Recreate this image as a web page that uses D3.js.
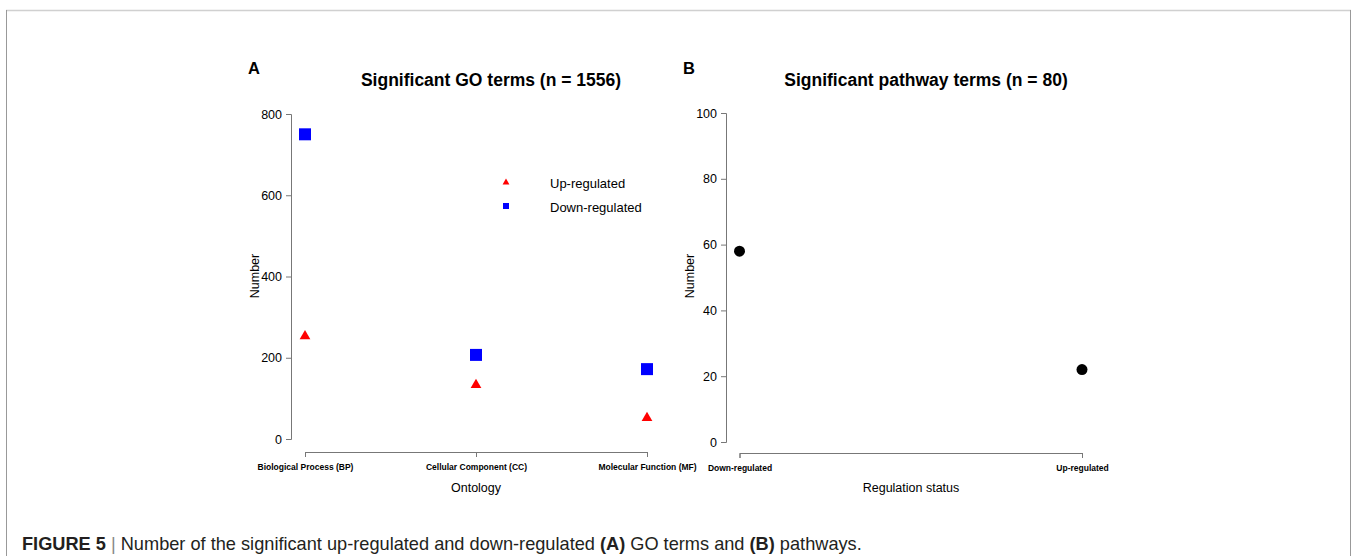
<!DOCTYPE html>
<html lang="en">
<head>
<meta charset="utf-8">
<title>Figure 5</title>
<script src="https://d3js.org/d3.v7.min.js"></script>
<style>
  body { margin: 0; background: #fff; }
  svg text { font-family: "Liberation Sans", Arial, sans-serif; }
</style>
</head>
<body>
<script>
// data
const ontology = ["Biological Process (BP)", "Cellular Component (CC)", "Molecular Function (MF)"];
const upGO = [253, 133, 52];
const downGO = [750, 207, 172];
const goTicks = [0, 200, 400, 600, 800];

const regStatus = ["Down-regulated", "Up-regulated"];
const pathwayCounts = [58, 22];
const pathwayTicks = [0, 20, 40, 60, 80, 100];

const W = 1352, H = 556;
const svg = d3.select("body").append("svg").attr("width", W).attr("height", H);

// figure frame
svg.append("line").attr("x1", 6).attr("x2", 1351).attr("y1", 10.5).attr("y2", 10.5)
  .attr("stroke", "#d0d0d0").attr("stroke-width", 1.5);
svg.append("line").attr("x1", 6.5).attr("x2", 6.5).attr("y1", 10).attr("y2", H)
  .attr("stroke", "#999").attr("stroke-width", 1);
svg.append("line").attr("x1", 1350.5).attr("x2", 1350.5).attr("y1", 10).attr("y2", H)
  .attr("stroke", "#999").attr("stroke-width", 1);

function styleAxis(g) {
  g.selectAll("path.domain").attr("stroke", "#777");
  g.selectAll(".tick line").attr("stroke", "#777");
}

// ---------- Panel A ----------
const xA = d3.scalePoint().domain(ontology).range([305, 647]);
const yA = d3.scaleLinear().domain([0, 800]).range([439, 114]);

svg.append("g").attr("transform", "translate(291,0)")
  .call(d3.axisLeft(yA).tickValues(goTicks).tickSizeOuter(0).tickSize(5).tickPadding(4))
  .call(styleAxis)
  .call(g => g.selectAll("text").style("font-size", "12.5px").attr("fill", "#000"));

svg.append("g").attr("transform", "translate(0,452)")
  .call(d3.axisBottom(xA).tickSizeOuter(0).tickSize(5).tickPadding(6.5))
  .call(styleAxis)
  .call(g => g.selectAll("text").style("font-size", "8.5px").style("font-weight", "bold").attr("fill", "#000"));

svg.append("text").attr("x", 476).attr("y", 492).attr("text-anchor", "middle")
  .style("font-size", "12.5px").text("Ontology");
svg.append("text").attr("transform", "translate(259,276) rotate(-90)").attr("text-anchor", "middle")
  .style("font-size", "12.5px").text("Number");
svg.append("text").attr("x", 491).attr("y", 86).attr("text-anchor", "middle")
  .style("font-size", "17.5px").style("font-weight", "bold").text("Significant GO terms (n = 1556)");
svg.append("text").attr("x", 248).attr("y", 74)
  .style("font-size", "16.5px").style("font-weight", "bold").text("A");

const tri = d3.symbol().type(d3.symbolTriangle).size(50);
const sq = d3.symbol().type(d3.symbolSquare).size(144);

svg.append("g").selectAll("path").data(ontology).join("path")
  .attr("transform", (d, i) => `translate(${xA(d)},${yA(downGO[i])})`)
  .attr("d", sq).attr("fill", "#0000ff");
svg.append("g").selectAll("path").data(ontology).join("path")
  .attr("transform", (d, i) => `translate(${xA(d)},${yA(upGO[i])})`)
  .attr("d", tri).attr("fill", "#ff0000");

// legend
const legend = [
  {label: "Up-regulated", sym: d3.symbol().type(d3.symbolTriangle).size(20), color: "#ff0000"},
  {label: "Down-regulated", sym: d3.symbol().type(d3.symbolSquare).size(36), color: "#0000ff"}
];
const lg = svg.append("g").selectAll("g").data(legend).join("g")
  .attr("transform", (d, i) => `translate(506,${182.5 + i * 23.5})`);
lg.append("path").attr("d", d => d.sym()).attr("fill", d => d.color);
lg.append("text").attr("x", 44).attr("y", 1).attr("dy", "0.35em").style("font-size", "13px").text(d => d.label);

// ---------- Panel B ----------
const xB = d3.scalePoint().domain(regStatus).range([739.5, 1082]);
const yB = d3.scaleLinear().domain([0, 100]).range([442, 113]);

svg.append("g").attr("transform", "translate(726,0)")
  .call(d3.axisLeft(yB).tickValues(pathwayTicks).tickSizeOuter(0).tickSize(5).tickPadding(4))
  .call(styleAxis)
  .call(g => g.selectAll("text").style("font-size", "12.5px").attr("fill", "#000"));

svg.append("g").attr("transform", "translate(0,453)")
  .call(d3.axisBottom(xB).tickSizeOuter(0).tickSize(5).tickPadding(6.5))
  .call(styleAxis)
  .call(g => g.selectAll("text").style("font-size", "8.5px").style("font-weight", "bold").attr("fill", "#000"));

svg.append("text").attr("x", 911).attr("y", 492).attr("text-anchor", "middle")
  .style("font-size", "12.5px").text("Regulation status");
svg.append("text").attr("transform", "translate(694,276) rotate(-90)").attr("text-anchor", "middle")
  .style("font-size", "12.5px").text("Number");
svg.append("text").attr("x", 926).attr("y", 86).attr("text-anchor", "middle")
  .style("font-size", "17.5px").style("font-weight", "bold").text("Significant pathway terms (n = 80)");
svg.append("text").attr("x", 683).attr("y", 74)
  .style("font-size", "16.5px").style("font-weight", "bold").text("B");

svg.append("g").selectAll("circle").data(regStatus).join("circle")
  .attr("cx", d => xB(d)).attr("cy", (d, i) => yB(pathwayCounts[i]))
  .attr("r", 5.5).attr("fill", "#000");

// ---------- caption ----------
const cap = svg.append("text").attr("x", 22).attr("y", 550)
  .style("font-size", "18.2px").attr("fill", "#231f20");
cap.append("tspan").style("font-weight", "bold").text("FIGURE 5");
cap.append("tspan").attr("fill", "#888").text(" | ");
cap.append("tspan").text("Number of the significant up-regulated and down-regulated ");
cap.append("tspan").style("font-weight", "bold").text("(A)");
cap.append("tspan").text(" GO terms and ");
cap.append("tspan").style("font-weight", "bold").text("(B)");
cap.append("tspan").text(" pathways.");
</script>
</body>
</html>
